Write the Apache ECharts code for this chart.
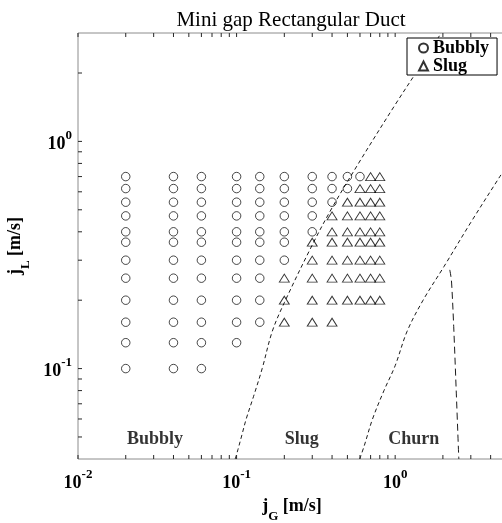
<!DOCTYPE html>
<html>
<head>
<meta charset="utf-8">
<script src="https://cdn.jsdelivr.net/npm/echarts@6/dist/echarts.min.js"></script>
<style>
  html, body { margin: 0; padding: 0; background: #fff; }
  #chart { width: 502px; height: 523px; }
</style>
</head>
<body>
<div id="chart"></div>
<script>
const FONT = '"Liberation Serif", "Times New Roman", serif';

// Measured flow conditions [jG, jL] in m/s, grouped by observed regime
const bubblyPoints = [
  [0.02, 0.70], [0.02, 0.62], [0.02, 0.54], [0.02, 0.47], [0.02, 0.40], [0.02, 0.36],
  [0.02, 0.30], [0.02, 0.25], [0.02, 0.20], [0.02, 0.16], [0.02, 0.13], [0.02, 0.10],
  [0.04, 0.70], [0.04, 0.62], [0.04, 0.54], [0.04, 0.47], [0.04, 0.40], [0.04, 0.36],
  [0.04, 0.30], [0.04, 0.25], [0.04, 0.20], [0.04, 0.16], [0.04, 0.13], [0.04, 0.10],
  [0.06, 0.70], [0.06, 0.62], [0.06, 0.54], [0.06, 0.47], [0.06, 0.40], [0.06, 0.36],
  [0.06, 0.30], [0.06, 0.25], [0.06, 0.20], [0.06, 0.16], [0.06, 0.13], [0.06, 0.10],
  [0.10, 0.70], [0.10, 0.62], [0.10, 0.54], [0.10, 0.47], [0.10, 0.40], [0.10, 0.36],
  [0.10, 0.30], [0.10, 0.25], [0.10, 0.20], [0.10, 0.16], [0.10, 0.13],
  [0.14, 0.70], [0.14, 0.62], [0.14, 0.54], [0.14, 0.47], [0.14, 0.40], [0.14, 0.36],
  [0.14, 0.30], [0.14, 0.25], [0.14, 0.20], [0.14, 0.16],
  [0.2, 0.70], [0.2, 0.62], [0.2, 0.54], [0.2, 0.47], [0.2, 0.40], [0.2, 0.36], [0.2, 0.30],
  [0.3, 0.70], [0.3, 0.62], [0.3, 0.54], [0.3, 0.47], [0.3, 0.40],
  [0.4, 0.70], [0.4, 0.62], [0.4, 0.54],
  [0.5, 0.70], [0.5, 0.62],
  [0.6, 0.70]
];

const slugPoints = [
  [0.2, 0.25], [0.2, 0.20], [0.2, 0.16],
  [0.3, 0.36], [0.3, 0.30], [0.3, 0.25], [0.3, 0.20], [0.3, 0.16],
  [0.4, 0.47], [0.4, 0.40], [0.4, 0.36], [0.4, 0.30], [0.4, 0.25], [0.4, 0.20], [0.4, 0.16],
  [0.5, 0.54], [0.5, 0.47], [0.5, 0.40], [0.5, 0.36], [0.5, 0.30], [0.5, 0.25], [0.5, 0.20],
  [0.6, 0.62], [0.6, 0.54], [0.6, 0.47], [0.6, 0.40], [0.6, 0.36], [0.6, 0.30], [0.6, 0.25], [0.6, 0.20],
  [0.7, 0.70], [0.7, 0.62], [0.7, 0.54], [0.7, 0.47], [0.7, 0.40], [0.7, 0.36], [0.7, 0.30], [0.7, 0.25], [0.7, 0.20],
  [0.8, 0.70], [0.8, 0.62], [0.8, 0.54], [0.8, 0.47], [0.8, 0.40], [0.8, 0.36], [0.8, 0.30], [0.8, 0.25], [0.8, 0.20]
];

// Regime transition boundaries [jG, jL]
const bubblySlugBoundary = [
  [0.098, 0.04], [0.102, 0.044], [0.108, 0.051], [0.115, 0.06], [0.128, 0.0755],
  [0.145, 0.10], [0.168, 0.146], [0.2, 0.195], [0.3, 0.35], [0.4, 0.51],
  [0.6, 0.82], [1.0, 1.45], [1.5, 2.24], [1.95, 3.0]
];
const slugChurnBoundary = [
  [0.598, 0.04], [0.64, 0.046], [0.72, 0.06], [0.85, 0.08], [1.0, 0.103],
  [1.19, 0.146], [1.5, 0.2], [2.03, 0.281], [3.0, 0.44], [4.5, 0.688], [5.0, 0.77]
];
const churnAnnularBoundary = [
  [2.21, 0.272], [2.24, 0.258], [2.27, 0.238], [2.34, 0.153], [2.43, 0.078], [2.52, 0.04]
];

// Regime names placed in the map
const regionLabels = [
  { name: 'Bubbly', value: [0.0306, 0.049] },
  { name: 'Slug', value: [0.258, 0.049] },
  { name: 'Churn', value: [1.31, 0.049] }
];

// Axis extents and tick marks
const xRange = [0.01, 5];
const yRange = [0.04, 3];
const xTicks = [0.01, 0.02, 0.03, 0.04, 0.05, 0.06, 0.07, 0.08, 0.09,
                0.1, 0.2, 0.3, 0.4, 0.5, 0.6, 0.7, 0.8, 0.9, 1, 2, 3, 4];
const yTicks = [0.05, 0.06, 0.07, 0.08, 0.09, 0.1, 0.2, 0.3, 0.4, 0.5,
                0.6, 0.7, 0.8, 0.9, 1, 2];

const TICK_LEN = 4;
const TICK_COLOR = '#262626';
const AXIS_COLOR = '#8c8c8c';

function powerLabel(v) {
  const e = Math.log10(v);
  const r = Math.round(e);
  if (Math.abs(e - r) > 1e-6) return '';
  return '{b|10}{s|' + r + '}';
}

const labelRich = {
  b: { fontFamily: FONT, fontWeight: 'bold', fontSize: 18, color: '#000', lineHeight: 24, verticalAlign: 'bottom' },
  s: { fontFamily: FONT, fontWeight: 'bold', fontSize: 13, color: '#000', lineHeight: 24, verticalAlign: 'top' }
};

const nameRich = {
  j: { fontFamily: FONT, fontWeight: 'bold', fontSize: 18, color: '#000', lineHeight: 26, verticalAlign: 'top' },
  sub: { fontFamily: FONT, fontWeight: 'bold', fontSize: 13, color: '#000', lineHeight: 26, verticalAlign: 'bottom' },
  t: { fontFamily: FONT, fontWeight: 'bold', fontSize: 18, color: '#000', lineHeight: 26, verticalAlign: 'top' }
};

function xTickItem(params, api) {
  const v = api.value(0);
  const b = api.coord([v, yRange[0]]);
  const t = api.coord([v, yRange[1]]);
  const st = { stroke: TICK_COLOR, lineWidth: 1 };
  return {
    type: 'group',
    children: [
      { type: 'line', shape: { x1: b[0], y1: b[1], x2: b[0], y2: b[1] - TICK_LEN }, style: st },
      { type: 'line', shape: { x1: t[0], y1: t[1], x2: t[0], y2: t[1] + TICK_LEN }, style: st }
    ]
  };
}

function yTickItem(params, api) {
  const v = api.value(1);
  const l = api.coord([xRange[0], v]);
  const r = api.coord([xRange[1], v]);
  const st = { stroke: TICK_COLOR, lineWidth: 1 };
  return {
    type: 'group',
    children: [
      { type: 'line', shape: { x1: l[0], y1: l[1], x2: l[0] + TICK_LEN, y2: l[1] }, style: st },
      { type: 'line', shape: { x1: r[0], y1: r[1], x2: r[0] - TICK_LEN, y2: r[1] }, style: st }
    ]
  };
}

const boundaryStyle = (dash) => ({
  type: 'line',
  showSymbol: false,
  symbol: 'none',
  silent: true,
  smooth: 0.35,
  lineStyle: { color: '#000', width: 0.9, type: dash },
  z: 3
});

const chart = echarts.init(document.getElementById('chart'), null, { renderer: 'canvas' });

chart.setOption({
  backgroundColor: '#fff',
  animation: false,
  title: {
    text: 'Mini gap Rectangular Duct',
    left: 286,
    top: 5,
    textAlign: 'center',
    textStyle: { fontFamily: FONT, fontWeight: 'normal', fontSize: 21, color: '#000' }
  },
  legend: {
    data: ['Bubbly', 'Slug'],
    orient: 'vertical',
    left: 407,
    top: 38,
    padding: [1, 8, 0, 11],
    itemGap: 0,
    itemWidth: 9,
    itemHeight: 9,
    backgroundColor: '#fff',
    borderColor: '#000',
    borderWidth: 1,
    borderRadius: 0,
    textStyle: { fontFamily: FONT, fontWeight: 'bold', fontSize: 18, color: '#000' }
  },
  grid: {
    left: 78, top: 33, width: 428, height: 426,
    outerBoundsMode: 'none',
    containLabel: false,
    show: true, borderColor: AXIS_COLOR, borderWidth: 1, backgroundColor: '#fff'
  },
  xAxis: {
    type: 'log',
    logBase: 10,
    min: xRange[0],
    max: xRange[1],
    axisLine: { show: false },
    axisTick: { show: false },
    splitLine: { show: false },
    axisLabel: {
      margin: 9,
      formatter: powerLabel,
      rich: labelRich,
      showMinLabel: true,
      showMaxLabel: false
    },
    name: '{j|j}{sub|G}{t| [m/s]}',
    nameLocation: 'middle',
    nameGap: 38,
    nameTextStyle: { rich: nameRich }
  },
  yAxis: {
    type: 'log',
    logBase: 10,
    min: yRange[0],
    max: yRange[1],
    axisLine: { show: false },
    axisTick: { show: false },
    splitLine: { show: false },
    axisLabel: {
      margin: 6,
      formatter: powerLabel,
      rich: labelRich
    },
    name: '{j|j}{sub|L}{t| [m/s]}',
    nameLocation: 'middle',
    nameRotate: 90,
    nameGap: 44,
    nameTextStyle: { rich: nameRich }
  },
  series: [
    Object.assign({ name: 'Bubbly-Slug', data: bubblySlugBoundary }, boundaryStyle([4, 3])),
    Object.assign({ name: 'Slug-Churn', data: slugChurnBoundary }, boundaryStyle([4, 3])),
    Object.assign({ name: 'Churn-Annular', data: churnAnnularBoundary }, boundaryStyle([7, 4])),
    {
      name: 'Bubbly',
      type: 'scatter',
      data: bubblyPoints,
      symbol: 'circle',
      symbolSize: 8.5,
      itemStyle: { color: 'rgba(255,255,255,0)', borderColor: '#000', borderWidth: 0.9 },
      z: 4
    },
    {
      name: 'Slug',
      type: 'scatter',
      data: slugPoints,
      symbol: 'triangle',
      symbolSize: [10, 8],
      itemStyle: { color: 'rgba(255,255,255,0)', borderColor: '#000', borderWidth: 0.9 },
      z: 4
    },
    {
      name: 'regime-names',
      type: 'scatter',
      data: regionLabels,
      symbolSize: 0,
      silent: true,
      label: {
        show: true,
        position: 'inside',
        formatter: (p) => p.name,
        fontFamily: FONT,
        fontWeight: 'bold',
        fontSize: 18,
        color: '#000'
      },
      z: 5
    },
    {
      name: 'x-ticks',
      type: 'custom',
      data: xTicks.map((v) => [v, yRange[0]]),
      renderItem: xTickItem,
      silent: true,
      clip: false,
      z: 6
    },
    {
      name: 'y-ticks',
      type: 'custom',
      data: yTicks.map((v) => [xRange[0], v]),
      renderItem: yTickItem,
      silent: true,
      clip: false,
      z: 6
    }
  ]
});
</script>
</body>
</html>
